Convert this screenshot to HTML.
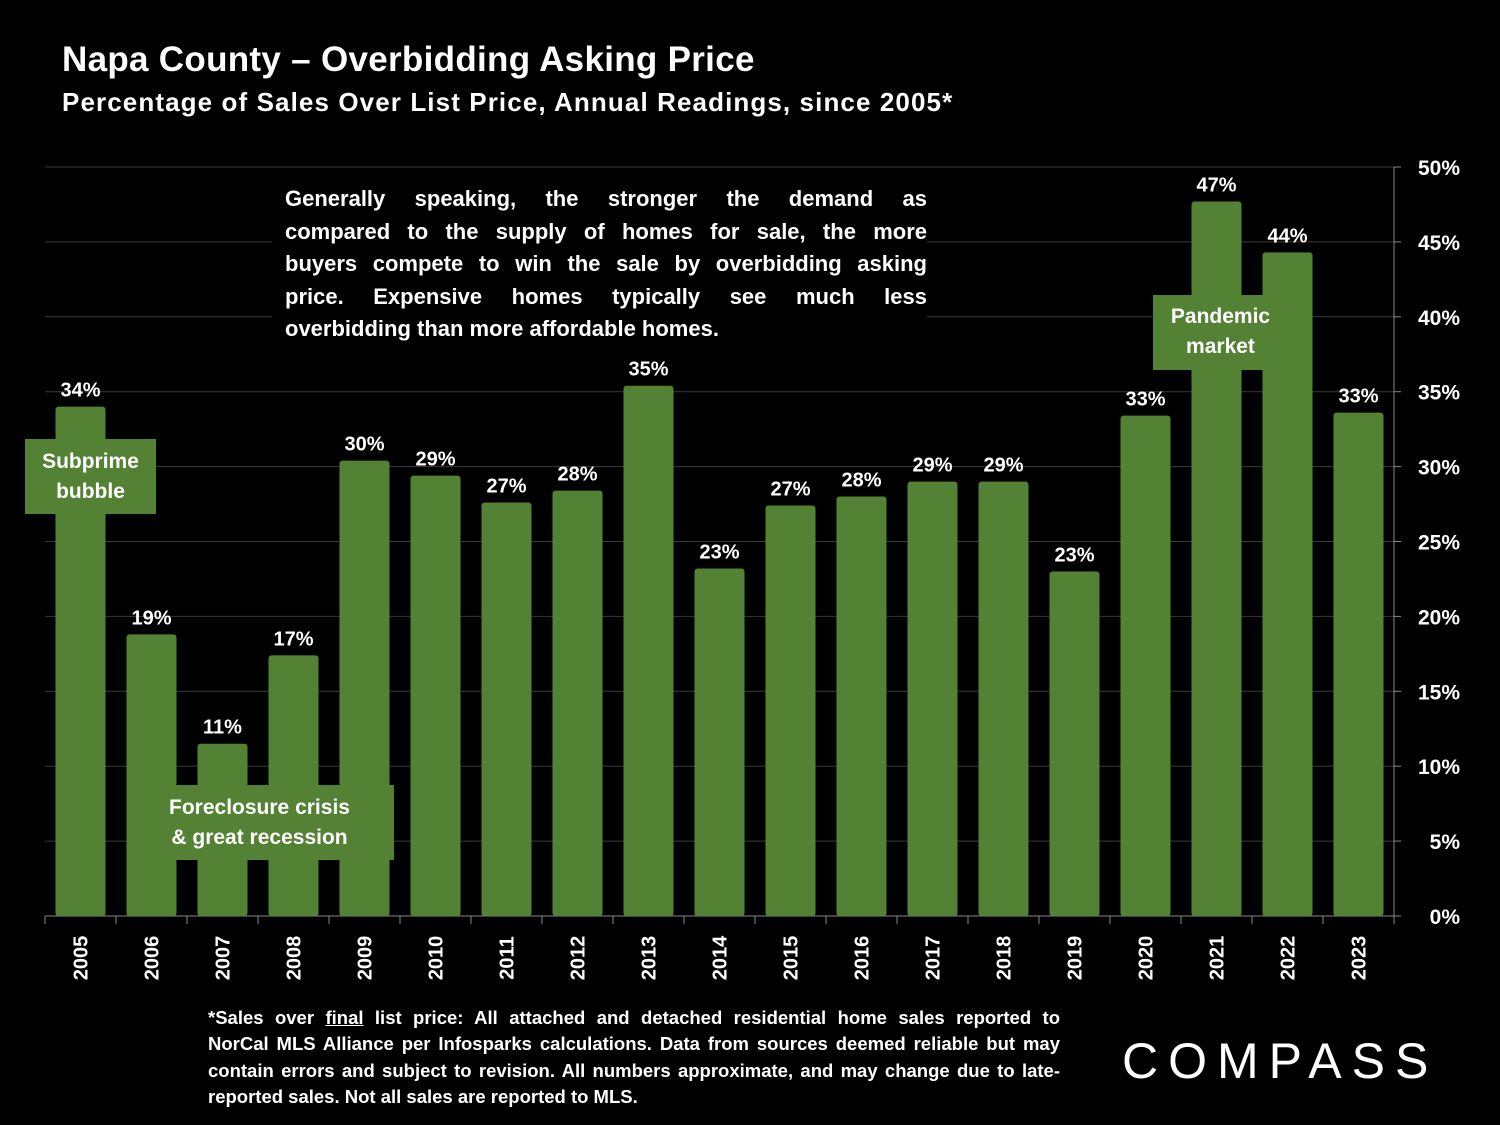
<!DOCTYPE html>
<html><head><meta charset="utf-8">
<style>
body{margin:0;background:#000;width:1500px;height:1125px;overflow:hidden;font-family:"Liberation Sans",sans-serif;color:#fff}
.t{position:absolute;white-space:nowrap}
.j{text-align:justify;text-align-last:justify;white-space:nowrap}
.l{text-align:left;white-space:nowrap}
</style></head>
<body>
<div class="t" style="left:62px;top:40px;font-size:35px;font-weight:bold;letter-spacing:0.3px">Napa County – Overbidding Asking Price</div>
<div class="t" style="left:62px;top:87px;font-size:26px;font-weight:bold;letter-spacing:1.1px">Percentage of Sales Over List Price, Annual Readings, since 2005*</div>
<svg id="chart" width="1500" height="1125" style="position:absolute;left:0;top:0"></svg>
<div class="t" style="left:272px;top:183px;width:642px;padding:0 0 0 13px;background:#000;font-size:22px;font-weight:bold;line-height:32.5px;height:165px">
<div class="j">Generally speaking, the stronger the demand as</div>
<div class="j">compared to the supply of homes for sale, the more</div>
<div class="j">buyers compete to win the sale by overbidding asking</div>
<div class="j">price. Expensive homes typically see much less</div>
<div class="l">overbidding than more affordable homes.</div>
</div>
<div class="t" style="left:25px;top:439px;width:131px;height:75px;background:#548235;text-align:center;font-size:21px;font-weight:bold;line-height:30px;padding-top:8px;box-sizing:border-box">Subprime<br>bubble</div>
<div class="t" style="left:153px;top:785px;width:241px;height:75px;background:#548235;text-align:center;font-size:21px;font-weight:bold;line-height:30px;padding-top:8px;padding-right:28px;box-sizing:border-box">Foreclosure crisis<br>&amp; great recession</div>
<div class="t" style="left:1153px;top:295px;width:135px;height:75px;background:#548235;text-align:center;font-size:21px;font-weight:bold;line-height:30px;padding-top:7px;box-sizing:border-box">Pandemic<br>market</div>
<div class="t" style="left:208px;top:1005px;width:852px;font-size:18.5px;font-weight:bold;line-height:26.3px">
<div class="j">*Sales over <u>final</u> list price: All attached and detached residential home sales reported to</div>
<div class="j">NorCal MLS Alliance per Infosparks calculations. Data from sources deemed reliable but may</div>
<div class="j">contain errors and subject to revision. All numbers approximate, and may change due to late-</div>
<div class="l">reported sales. Not all sales are reported to MLS.</div>
</div>
<div class="t" style="left:1122px;top:1032px;font-size:50px;letter-spacing:10px;font-weight:normal">COMPASS</div>
<script>
const years=["2005","2006","2007","2008","2009","2010","2011","2012","2013","2014","2015","2016","2017","2018","2019","2020","2021","2022","2023"];
const values=[34.0,18.8,11.5,17.4,30.4,29.4,27.6,28.4,35.4,23.2,27.4,28.0,29.0,29.0,23.0,33.4,47.7,44.3,33.6];
const labels=["34%","19%","11%","17%","30%","29%","27%","28%","35%","23%","27%","28%","29%","29%","23%","33%","47%","44%","33%"];
const ticks=[0,5,10,15,20,25,30,35,40,45,50];
const svg=document.getElementById('chart');const NS='http://www.w3.org/2000/svg';
const L=45,R=1394,Y0=916,Y50=167;
const y=v=>Y0-(v/50)*(Y0-Y50);
const band=(R-L)/years.length;
const x=i=>L+band*i;
function mk(t,a,txt){const e=document.createElementNS(NS,t);for(const k in a)e.setAttribute(k,a[k]);if(txt!==undefined)e.textContent=txt;svg.appendChild(e);return e;}
ticks.forEach(t=>{
 if(t>0){const g=mk('line',{x1:L,x2:R,y1:y(t),y2:y(t),stroke:'#3a3a3a','stroke-width':1});
 
 }
 const k=mk('line',{x1:R,x2:R+7,y1:y(t),y2:y(t),stroke:'#888'});
 
 
 const tl=mk('text',{x:1460,y:y(t)+8,'text-anchor':'end','font-size':21,'font-weight':'bold',fill:'#fff'},t+'%');
 
 
});
const ax=mk('line',{x1:R,x2:R,y1:Y50,y2:Y0,stroke:'#888'});


const bx=mk('line',{x1:L,x2:R,y1:Y0,y2:Y0,stroke:'#888'});


for(let i=0;i<=years.length;i++){const t=mk('line',{x1:x(i),x2:x(i),y1:Y0,y2:Y0+8,stroke:'#888'});
 
 }
years.forEach((yr,i)=>{
 const cx=x(i)+band/2,w=50;
 const b=mk('rect',{x:cx-w/2,y:y(values[i]),width:w,height:Y0-y(values[i]),fill:'#548235',rx:3});
 
 
 const vl=mk('text',{x:cx,y:y(values[i])-10,'text-anchor':'middle','font-size':20,'font-weight':'bold',fill:'#fff'},labels[i]);
 
 
 const xl=mk('text',{x:0,y:0,'text-anchor':'middle','font-size':20,'font-weight':'bold',fill:'#fff',transform:`translate(${cx+7},958) rotate(-90)`},yr);
 
 
});
</script>
</body></html>
